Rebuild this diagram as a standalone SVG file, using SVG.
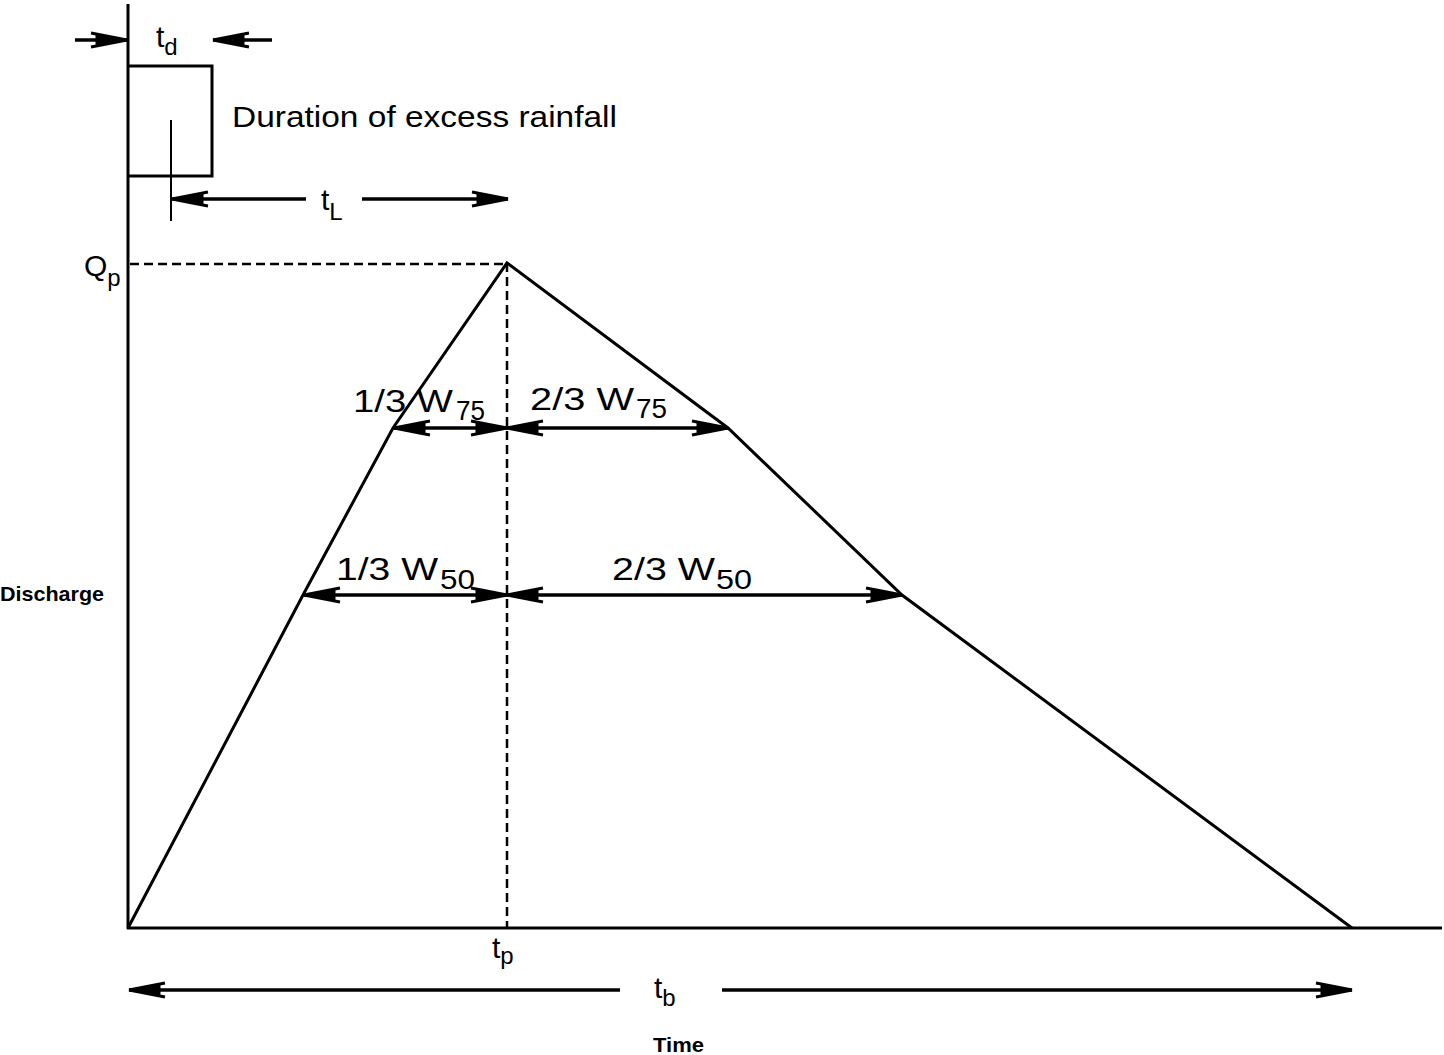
<svg xmlns="http://www.w3.org/2000/svg" width="1444" height="1055" viewBox="0 0 1444 1055">
<defs>
<marker id="ah" markerUnits="userSpaceOnUse" markerWidth="44" markerHeight="20" refX="0" refY="0" viewBox="-40 -10 44 20" orient="auto-start-reverse">
<path d="M0,0 L-36,-7 M0,0 L-36,7 M0,0 L-30,-3 L-30,3 Z" fill="#000" stroke="#000" stroke-width="3"/>
</marker>
<style>
.ln{stroke:#000;stroke-width:3;fill:none}
.thin{stroke:#000;stroke-width:2;fill:none}
.dash{stroke:#000;stroke-width:2.5;fill:none;stroke-dasharray:9 5}
.ar{stroke:#000;stroke-width:3.5;fill:none}
.t{font-family:"Liberation Sans","DejaVu Sans",sans-serif;fill:#000}
.lb{font-size:30px}
.sub{font-size:24px}
.wm{font-size:32px}
.ws{font-size:28px}
.ax{font-family:"Liberation Sans",sans-serif;font-weight:bold;font-size:21px;fill:#000}
</style>
</defs>
<g id="axes">
<line class="ln" x1="128" y1="4" x2="128" y2="929"/>
<line class="ln" x1="127" y1="928" x2="1442" y2="928"/>
</g>
<g id="rainfall">
<polyline class="ln" points="128,66 212,66 212,176 128,176"/>
<line class="thin" x1="171" y1="120" x2="171" y2="221"/>
</g>
<g id="hydrograph">
<polyline class="ln" points="128,928 303,595 393,428 507,263 728,428 902,595 1352,928"/>
<line class="dash" x1="507" y1="263" x2="507" y2="928"/>
<line class="dash" x1="130" y1="264" x2="507" y2="264"/>
</g>
<g id="connectors">
<line class="ar" x1="75" y1="40" x2="127" y2="40" marker-end="url(#ah)"/>
<line class="ar" x1="272" y1="40" x2="213" y2="40" marker-end="url(#ah)"/>
<line class="ar" x1="306" y1="199" x2="172" y2="199" marker-end="url(#ah)"/>
<line class="ar" x1="362" y1="199" x2="508" y2="199" marker-end="url(#ah)"/>
<line class="ar" x1="394" y1="428" x2="507" y2="428" marker-start="url(#ah)" marker-end="url(#ah)"/>
<line class="ar" x1="507" y1="428" x2="728" y2="428" marker-start="url(#ah)" marker-end="url(#ah)"/>
<line class="ar" x1="304" y1="595" x2="507" y2="595" marker-start="url(#ah)" marker-end="url(#ah)"/>
<line class="ar" x1="507" y1="595" x2="902" y2="595" marker-start="url(#ah)" marker-end="url(#ah)"/>
<line class="ar" x1="620" y1="990" x2="129" y2="990" marker-end="url(#ah)"/>
<line class="ar" x1="722" y1="990" x2="1352" y2="990" marker-end="url(#ah)"/>
</g>
<g id="labels">
<text class="t lb" x="156" y="47">t<tspan class="sub" dy="8">d</tspan></text>
<text class="t lb" x="232" y="127" textLength="385" lengthAdjust="spacingAndGlyphs">Duration of excess rainfall</text>
<text class="t lb" x="321" y="210">t<tspan class="sub" dy="10">L</tspan></text>
<text class="t lb" x="84" y="276">Q<tspan class="sub" dy="10">p</tspan></text>
<text class="t wm" x="353" y="412" textLength="100" lengthAdjust="spacingAndGlyphs">1/3 W</text>
<text class="t ws" x="456" y="420" textLength="29" lengthAdjust="spacingAndGlyphs">75</text>
<text class="t wm" x="530" y="410" textLength="104" lengthAdjust="spacingAndGlyphs">2/3 W</text>
<text class="t ws" x="636" y="418" textLength="31" lengthAdjust="spacingAndGlyphs">75</text>
<text class="t wm" x="336" y="580" textLength="102" lengthAdjust="spacingAndGlyphs">1/3 W</text>
<text class="t ws" x="440" y="589" textLength="35" lengthAdjust="spacingAndGlyphs">50</text>
<text class="t wm" x="612" y="580" textLength="103" lengthAdjust="spacingAndGlyphs">2/3 W</text>
<text class="t ws" x="716" y="589" textLength="36" lengthAdjust="spacingAndGlyphs">50</text>
<text class="t lb" x="492" y="958">t<tspan class="sub" dy="6">p</tspan></text>
<text class="t lb" x="654" y="998">t<tspan class="sub" dy="8">b</tspan></text>
<text class="ax" x="653" y="1052" textLength="51" lengthAdjust="spacingAndGlyphs">Time</text>
<text class="ax" x="0" y="601" textLength="104" lengthAdjust="spacingAndGlyphs">Discharge</text>
</g>
</svg>
